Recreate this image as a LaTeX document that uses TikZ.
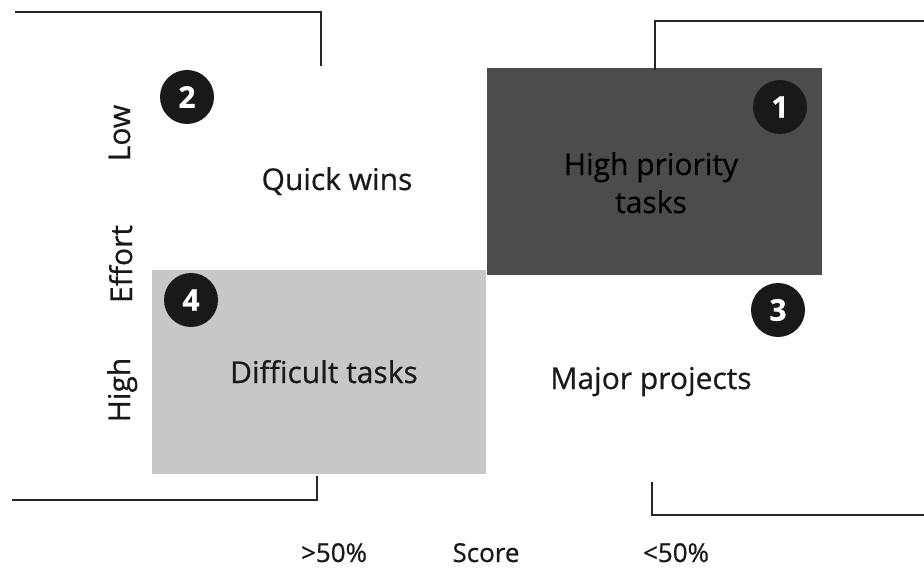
\documentclass[tikz,border=0pt]{standalone}
\usepackage{fontspec}
\setmainfont{Open Sans}[FakeBold=0.6]
\begin{document}
\begin{tikzpicture}[x=1pt,y=-1pt,
    lbl/.style={font=\fontsize{30}{38}\selectfont,anchor=base,inner sep=0pt,text=black!90},
    axlbl/.style={font=\fontsize{26}{30}\selectfont,anchor=base,inner sep=0pt,text=black!90},
    efflbl/.style={lbl,rotate=90},
    num/.style={circle,fill=black!90,minimum size=54pt,inner sep=0pt,text=white,
        font=\fontsize{30}{30}\selectfont\bfseries},
    brk/.style={line width=1.3pt,black!85}]
    \useasboundingbox (0,0) rectangle (924,569);
    \fill[black!70] (487,68) rectangle (822,275);
    \fill[black!22] (152,270) rectangle (486,474);
    \draw[brk] (15,12) -- (321,12) -- (321,66);
    \draw[brk] (655,70) -- (655,21) -- (924,21);
    \draw[brk] (12,500) -- (317,500) -- (317,476);
    \draw[brk] (652,482) -- (652,515) -- (924,515);
    \node[num] (n1) at (780,107) {1};
    \node[num] (n2) at (187,97) {2};
    \node[num] (n3) at (778,310) {3};
    \node[num] (n4) at (191,300) {4};
    \node[lbl,align=center,text=black] (hpt) at (651,213) {High priority\\tasks};
    \node[lbl] (qw) at (337,190) {Quick wins};
    \node[lbl] (dt) at (324,383) {Difficult tasks};
    \node[lbl] (mp) at (651,389) {Major projects};
    \node[efflbl] (low) at (130,133) {Low};
    \node[efflbl] (eff) at (132,264) {Effort};
    \node[efflbl] (high) at (130,390) {High};
    \node[axlbl] (gt) at (334,562) {>50\%};
    \node[axlbl] (sc) at (486,562) {Score};
    \node[axlbl] (lt) at (676,562) {<50\%};
\end{tikzpicture}
\end{document}
